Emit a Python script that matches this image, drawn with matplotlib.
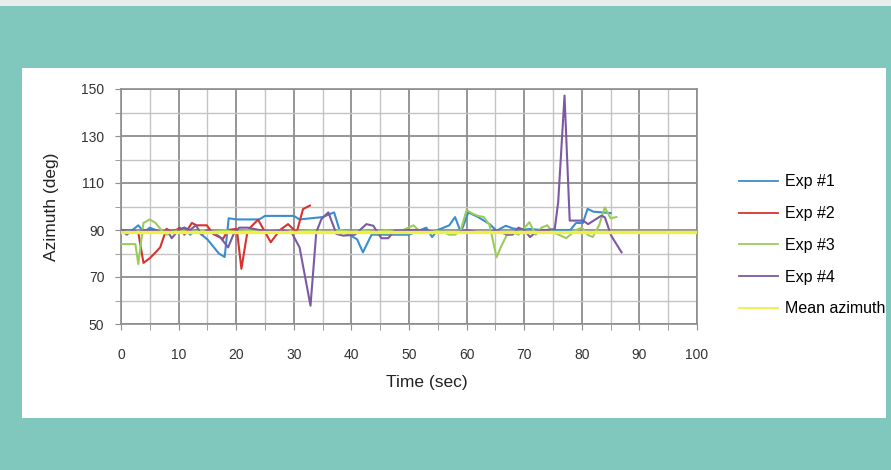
import matplotlib
matplotlib.use("Agg")
import matplotlib.pyplot as plt
from matplotlib.patches import Rectangle
from matplotlib.ticker import MultipleLocator

plt.rcParams['font.family'] = ['Liberation Sans', 'DejaVu Sans']

# ---------------- data ----------------
t1 = [0, 1, 2, 3, 4, 5, 6, 7, 8, 9, 10, 11, 12, 13, 14, 15, 16, 17, 18, 18.7, 20, 22, 24, 25, 28, 30, 31, 33, 35, 37, 38, 40, 41, 42, 43.5,
      46, 48, 50, 51, 52, 53, 54, 55, 57, 58, 59, 60.3, 62, 64, 65.2, 66.8, 68, 69.5, 71, 73, 75, 77, 78, 79, 80.2, 81, 82, 83.5, 85]
exp1 = [90, 90, 90, 92, 89, 91, 90, 89, 89, 90, 90, 91, 88, 90, 88, 86, 83, 80, 78.5, 95, 94.5, 94.5, 94.5, 96, 96, 96, 94.5, 95, 95.5, 97.5, 89.5, 87.5, 86, 80.5, 88,
        88, 88, 88, 89, 90, 91, 87, 90, 92, 95.5, 89, 97.5, 95.5, 92.5, 89.7, 91.8, 90.7, 90.1, 90.4, 90, 90, 90, 90, 93, 93, 99, 97.8, 97.5, 97.2]

t2 = [0, 1, 2, 3, 3.9, 5, 6, 6.8, 7.9, 9, 10.2, 11, 12.3, 13.1, 14.9, 16, 17.7, 18.6, 20.1, 20.9, 22, 23.8, 26, 27.6, 29, 30.5, 31.6, 32.8]
exp2 = [90, 89, 89, 89, 76, 78, 80.5, 82.6, 90.5, 89, 91, 88, 93, 92, 92, 88.3, 86.2, 90, 90.5, 73.5, 90, 94.4, 84.8, 90, 92.5, 89, 98.9, 100.4]

t3 = [0, 1, 2.5, 3, 3.9, 5, 6, 7, 8, 9, 10, 12, 14, 16, 18, 20, 22, 25, 28, 30, 33, 36, 38, 40, 42, 44, 46, 48, 49, 50.8, 52, 54, 56, 57, 58, 59, 60, 61, 62, 63, 64,
      65.2, 66, 67, 68, 69, 70.9, 72, 73, 74, 75, 76, 77.3, 78, 79, 80, 81, 81.9, 83, 84, 85, 86]
exp3 = [84, 84, 84, 75.5, 93, 94.5, 93, 90, 88, 89, 90, 89, 90, 89, 90, 89, 90, 89, 90, 89, 90, 89, 90, 89, 90, 89, 90, 89, 90, 92, 89, 90, 89, 88, 88, 90, 98.5, 97, 96, 95.5, 92,
        78.4, 83, 88, 89, 88, 93.3, 88, 91, 92, 89, 88, 86.5, 88, 90, 91, 88, 87, 92, 99.6, 95, 95.5]

t4 = [0, 1, 2, 3, 4, 5, 6, 7, 8, 8.8, 10, 11, 12, 13, 14, 15, 16, 17.2, 18.6, 19.5, 20.5, 22, 24, 26, 28, 29.6, 31, 32.9, 33.9, 34.8, 36, 37.4, 38.6, 40.6, 42.6, 43.8,
      45.2, 46.4, 47.5, 50, 53, 55, 58, 60, 62, 64, 65, 66, 67, 68, 69, 70, 71, 72, 73, 74, 75.3, 75.9, 77, 77.9, 80.2, 81.1, 83.4, 84, 85.1, 86.9]
exp4 = [90, 88, 90, 89, 90, 90, 90, 89, 90, 86.5, 90, 91, 90, 92, 88, 90, 89, 87, 82.6, 88, 91, 91, 90, 89.5, 90, 89, 82.6, 57.8, 89, 94.7, 97.5, 88.3, 87.6, 88, 92.5, 91.8,
        86.5, 86.5, 89.7, 90, 90, 89, 89, 90, 89, 89, 90, 89, 88, 88, 91, 90, 87, 89, 90, 90, 90.4, 101.8, 147.2, 94, 94, 92.5, 96.1, 95.4, 87.6, 80.5]

t_mean = [0, 100]
mean_az = [89, 89]

series_names = ["Exp #1", "Exp #2", "Exp #3", "Exp #4", "Mean azimuth"]
x_ticks = [0, 10, 20, 30, 40, 50, 60, 70, 80, 90, 100]
y_ticks = [50, 70, 90, 110, 130, 150]

# ---------------- figure ----------------
W, H = 891, 470
fig = plt.figure(figsize=(W / 100, H / 100), dpi=100)
fig.patch.set_facecolor("#80C8BD")

# top light strip and white panel (behind the axes)
fig.patches.append(Rectangle((0, 1 - 6 / H), 1, 6 / H, transform=fig.transFigure,
                             facecolor="#E8EEEC", edgecolor="none", zorder=-5))
fig.patches.append(Rectangle((22 / W, 1 - 418 / H), (886 - 22) / W, (418 - 68) / H,
                             transform=fig.transFigure, facecolor="white", edgecolor="none", zorder=-5))

ax = fig.add_axes([121 / W, 1 - 324 / H, (697 - 121) / W, (324 - 89) / H])
ax.set_zorder(2)
ax.set_facecolor("white")

colors = ["#3A8DD0", "#D8322E", "#9CCB5C", "#7B5AA3", "#EFEF45"]
lw = 1.5
ax.plot(t1, exp1, color=colors[0], lw=lw, label=series_names[0], zorder=3)
ax.plot(t2, exp2, color=colors[1], lw=lw, label=series_names[1], zorder=3)
ax.plot(t3, exp3, color=colors[2], lw=lw, label=series_names[2], zorder=3)
ax.plot(t4, exp4, color=colors[3], lw=lw, label=series_names[3], zorder=3)
ax.plot(t_mean, mean_az, color=colors[4], lw=2.4, label=series_names[4], zorder=4)

ax.set_xlim(0, 100)
ax.set_ylim(50, 150)
ax.set_xticks(x_ticks)
ax.set_yticks(y_ticks)
ax.xaxis.set_minor_locator(MultipleLocator(5))
ax.yaxis.set_minor_locator(MultipleLocator(10))
ax.grid(which="major", color="#8E8E8E", lw=1.3, zorder=1)
ax.grid(which="minor", color="#C4C4C4", lw=1.0, zorder=1)
ax.set_axisbelow(True)
for s in ax.spines.values():
    s.set_color("#8E8E8E")
    s.set_linewidth(1.2)
ax.tick_params(which="both", direction="out", length=4, color="#8E8E8E",
               labelsize=10, labelcolor="#333333")
ax.tick_params(axis="y", pad=8)
ax.tick_params(axis="x", pad=13)

ax.set_xlabel("Time (sec)", fontsize=12.5, color="#222222", labelpad=11)
ax.xaxis.set_label_coords((427 - 121) / (697 - 121), -0.2)
ax.xaxis.label.set_verticalalignment("center")
ax.xaxis.set_label_coords((427 - 121) / (697 - 121), -(383 - 324) / (324 - 89))
ax.set_ylabel("Azimuth (deg)", fontsize=12.5, color="#222222")
ax.yaxis.set_label_coords(-(121 - 52) / (697 - 121), 0.5)
ax.yaxis.label.set_verticalalignment("center")

leg = fig.legend(loc="upper left", bbox_to_anchor=(733 / W, 1 - 168 / H),
                 frameon=False, fontsize=11.5, handlelength=2.4, handletextpad=0.45,
                 labelspacing=1.05, borderaxespad=0)
leg.set_zorder(3)
for line in leg.get_lines():
    line.set_linewidth(1.3)

fig.savefig("out.png", dpi=100, facecolor=fig.get_facecolor())
